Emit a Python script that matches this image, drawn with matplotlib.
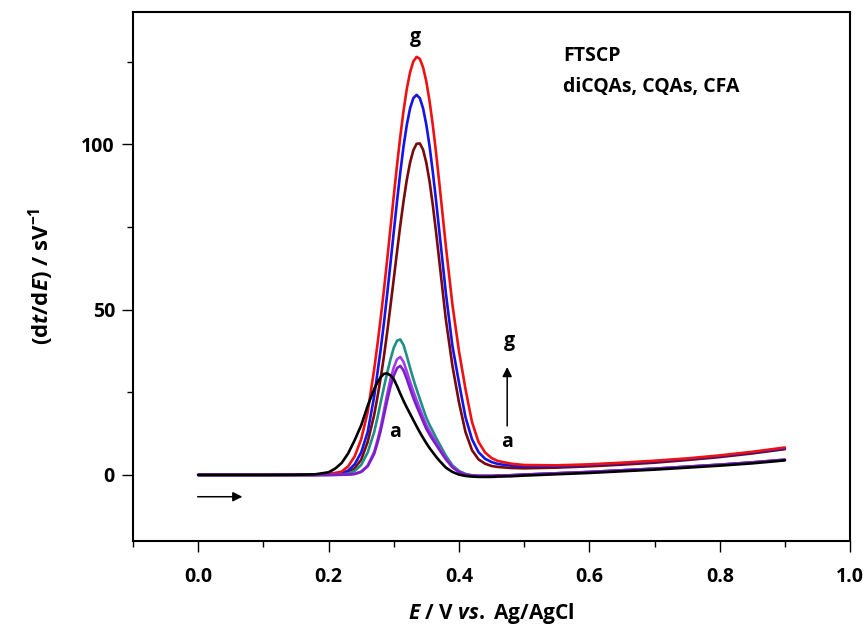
import matplotlib
matplotlib.use("Agg")
import matplotlib.pyplot as plt
from matplotlib.ticker import MultipleLocator

plt.rcParams['font.family'] = ['Open Sans', 'DejaVu Sans']
plt.rcParams['font.weight'] = 'bold'
plt.rcParams['axes.labelweight'] = 'bold'
plt.rcParams['mathtext.fontset'] = 'custom'
plt.rcParams['mathtext.rm'] = 'Open Sans:bold'
plt.rcParams['mathtext.it'] = 'Open Sans:italic:bold'
plt.rcParams['mathtext.bf'] = 'Open Sans:bold'

# potential grid (V vs Ag/AgCl)
E = [0.00, 0.05, 0.10, 0.15, 0.18, 0.20, 0.21, 0.22, 0.23, 0.24, 0.25, 0.26, 0.27,
     0.275, 0.28, 0.285, 0.29, 0.295, 0.30, 0.305, 0.31, 0.315, 0.32, 0.325, 0.33,
     0.335, 0.34, 0.345, 0.35, 0.355, 0.36, 0.365, 0.37,
     0.38, 0.39, 0.40, 0.41, 0.42, 0.43, 0.44, 0.45, 0.46, 0.48, 0.50,
     0.55, 0.60, 0.65, 0.70, 0.75, 0.80, 0.85, 0.90]

# dt/dE curves a..g
curve_a = [0, 0, 0, 0.05, 0.2, 0.8, 1.9, 3.6, 6.5, 10.5, 15.0, 20.9, 26.0,
           28.0, 29.6, 30.6, 30.7, 30.1, 29.0, 26.9, 24.6, 22.4, 20.4, 18.5, 16.6,
           14.7, 12.9, 11.2, 9.6, 8.1, 6.8, 5.5, 4.3,
           2.2, 0.9, 0.1, -0.3, -0.5, -0.6, -0.6, -0.6, -0.5, -0.4, -0.2,
           0.2, 0.6, 1.1, 1.6, 2.2, 2.8, 3.5, 4.4]
curve_b = [0, 0, 0, 0, 0, 0, 0.02, 0.05, 0.1, 0.3, 0.9, 2.6, 6.4,
           9.7, 13.4, 18.0, 22.6, 26.7, 30.0, 32.3, 33.0, 31.6, 29.0, 26.1, 23.3,
           20.8, 18.5, 16.2, 13.9, 12.2, 10.6, 9.1, 7.6,
           4.7, 2.3, 0.9, 0.1, -0.2, -0.3, -0.3, -0.3, -0.2, -0.1, 0.1,
           0.5, 0.9, 1.4, 1.9, 2.5, 3.1, 3.8, 4.6]
curve_c = [0, 0, 0, 0, 0, 0, 0.02, 0.05, 0.1, 0.3, 1.0, 2.8, 7.0,
           10.5, 14.5, 19.5, 24.5, 29.0, 32.5, 35.0, 35.7, 34.2, 31.3, 28.2, 25.3,
           22.6, 20.0, 17.5, 15.1, 13.2, 11.5, 9.8, 8.2,
           5.0, 2.5, 1.0, 0.2, -0.2, -0.3, -0.3, -0.3, -0.2, -0.1, 0.1,
           0.5, 0.9, 1.4, 1.9, 2.5, 3.1, 3.8, 4.6]
curve_d = [0, 0, 0, 0, 0, 0, 0.05, 0.1, 0.4, 1.2, 3.0, 6.8, 13.0,
           17.3, 22.0, 26.6, 31.0, 35.0, 38.5, 40.6, 41.0, 39.3, 36.0, 32.4, 29.0,
           25.9, 23.0, 20.1, 17.3, 15.1, 13.2, 11.2, 9.4,
           5.8, 2.9, 1.2, 0.3, -0.1, -0.3, -0.3, -0.3, -0.2, -0.1, 0.1,
           0.5, 0.9, 1.4, 1.9, 2.5, 3.1, 3.8, 4.6]
curve_e = [0, 0, 0, 0, 0, 0.05, 0.15, 0.3, 0.8, 2.0, 4.6, 10.0, 18.2,
           23.6, 29.4, 36.0, 43.3, 51.2, 59.3, 67.5, 75.5, 82.8, 89.3, 94.5, 98.2,
           100.2, 100.3, 98.4, 94.4, 88.7, 81.5, 73.3, 64.5,
           46.9, 33.0, 22.0, 13.0, 7.5, 4.7, 3.4, 2.7, 2.4, 2.1, 2.0,
           2.2, 2.6, 3.1, 3.7, 4.5, 5.4, 6.5, 7.8]
curve_f = [0, 0, 0, 0, 0.02, 0.15, 0.3, 0.5, 1.3, 3.2, 6.8, 13.0, 23.8,
           30.9, 38.1, 46.1, 54.9, 64.1, 73.5, 82.8, 91.5, 99.4, 105.9, 110.9, 114.0,
           115.0, 114.0, 110.9, 105.9, 99.4, 91.5, 82.8, 73.5,
           54.9, 39.0, 28.0, 17.5, 10.8, 6.9, 4.9, 3.9, 3.3, 2.8, 2.6,
           2.6, 3.0, 3.5, 4.1, 4.8, 5.7, 6.8, 8.0]
curve_g = [0, 0, 0, 0, 0.05, 0.3, 0.6, 1.0, 2.6, 5.6, 10.8, 19.0, 32.0,
           39.5, 47.5, 56.1, 65.3, 74.8, 84.4, 93.7, 102.4, 110.2, 116.8, 121.8, 125.1,
           126.5, 125.9, 123.3, 119.0, 113.0, 105.7, 97.3, 88.1,
           69.1, 51.5, 37.5, 26.0, 16.0, 10.0, 6.8, 5.1, 4.2, 3.4, 3.0,
           2.9, 3.2, 3.7, 4.3, 5.0, 5.9, 7.0, 8.3]

curves = [curve_e, curve_f, curve_g, curve_d, curve_c, curve_b, curve_a]
colors = ['#7a0a0a', '#1414e6', '#ee1111', '#1f8f86', '#a13cf0', '#7d1fc4', '#000000']

fig = plt.figure(figsize=(8.66, 6.31), dpi=100)
ax = fig.add_axes([0.1536, 0.1426, 0.828, 0.838])

for y, c in zip(curves, colors):
    ax.plot(E, y, color=c, lw=1.9, solid_joinstyle='round', solid_capstyle='round')

ax.set_xlim(-0.1, 1.0)
ax.set_ylim(-20, 140)
ax.xaxis.set_minor_locator(MultipleLocator(0.1))
ax.yaxis.set_minor_locator(MultipleLocator(25))
ax.set_xticks([0.0, 0.2, 0.4, 0.6, 0.8, 1.0])
ax.set_xticklabels(['0.0', '0.2', '0.4', '0.6', '0.8', '1.0'])
ax.set_yticks([0, 50, 100])

ax.tick_params(which='both', direction='out', top=False, right=False, width=1.0)
ax.tick_params(which='major', length=8, labelsize=14, pad=5)
ax.tick_params(which='minor', length=4.5)
ax.tick_params(axis='x', which='major', pad=11)
for s in ax.spines.values():
    s.set_linewidth(1.5)

ax.set_xlabel(r'$\mathit{E}$ / V $\mathit{vs.}$ Ag/AgCl', fontsize=15, labelpad=10)
ax.set_ylabel(r'(d$\mathit{t}$/d$\mathit{E}$) / sV$^{\mathbf{-1}}$', fontsize=16, labelpad=18)

# annotations
ax.text(0.333, 132.5, 'g', fontsize=14, ha='center', va='center')
ax.text(0.302, 13.0, 'a', fontsize=14, ha='center', va='center')
ax.text(0.477, 40.6, 'g', fontsize=14, ha='center', va='center')
ax.text(0.474, 10.0, 'a', fontsize=14, ha='center', va='center')
ax.annotate('', xy=(0.474, 33.5), xytext=(0.474, 14.0),
            arrowprops=dict(arrowstyle='-|>', color='k', lw=1.1, mutation_scale=14))
ax.annotate('', xy=(0.072, -6.6), xytext=(-0.005, -6.6),
            arrowprops=dict(arrowstyle='-|>', color='k', lw=1.1, mutation_scale=14))
ax.text(0.56, 126.7, 'FTSCP', fontsize=14, ha='left', va='center')
ax.text(0.56, 117.3, 'diCQAs, CQAs, CFA', fontsize=14, ha='left', va='center')

fig.savefig('out.png', dpi=100)
